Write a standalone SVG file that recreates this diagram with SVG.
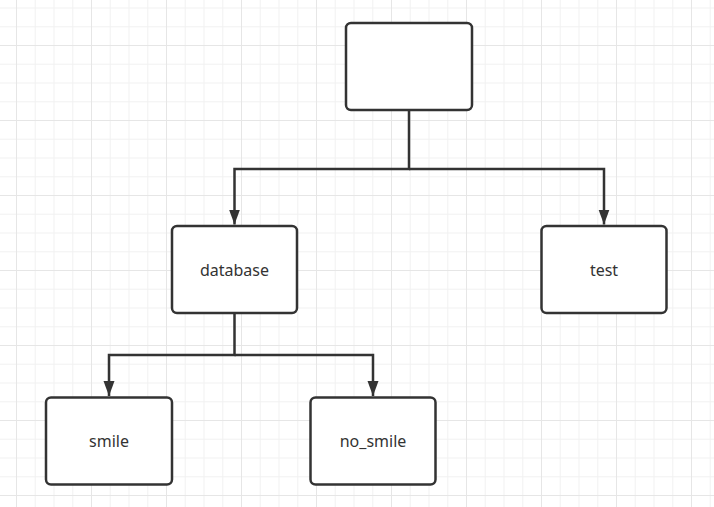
<svg xmlns="http://www.w3.org/2000/svg" width="714" height="507" viewBox="0 0 714 507">
  <style>
    .node rect { fill: #ffffff; stroke: #333333; stroke-width: 2.5; }
    .node text { font-family: "Noto Sans", "Liberation Sans", sans-serif; font-size: 16px; fill: #333333; text-anchor: middle; }
    .conn path { fill: none; stroke: #333333; stroke-width: 2.5; marker-end: url(#arrow); }
  </style>
  <defs>
    <pattern id="grid" patternUnits="userSpaceOnUse" x="16" y="45" width="75" height="75">
      <rect x="0" y="0" width="75" height="75" fill="#ffffff"/>
      <rect x="18.75" y="0" width="1" height="75" fill="#f2f2f2"/>
      <rect x="37.5" y="0" width="1" height="75" fill="#f2f2f2"/>
      <rect x="56.25" y="0" width="1" height="75" fill="#f2f2f2"/>
      <rect x="0" y="18.75" width="75" height="1" fill="#f2f2f2"/>
      <rect x="0" y="37.5" width="75" height="1" fill="#f2f2f2"/>
      <rect x="0" y="56.25" width="75" height="1" fill="#f2f2f2"/>
      <rect x="0" y="0" width="1" height="75" fill="#e6e6e6"/>
      <rect x="0" y="0" width="75" height="1" fill="#e6e6e6"/>
    </pattern>
    <marker id="arrow" markerUnits="userSpaceOnUse" markerWidth="16" markerHeight="12" refX="15" refY="5.5" orient="auto">
      <path d="M0,0 L15,5.5 L0,11 Z" fill="#333333"/>
    </marker>
  </defs>
  <rect x="0" y="0" width="714" height="507" fill="url(#grid)"/>

  <g id="connectors" class="conn">
    <path d="M409,111 V169 H234.5 V224.5"/>
    <path d="M409,169 H604 V224.5"/>
    <path d="M234.5,314 V355 H109 V396"/>
    <path d="M234.5,355 H373 V396"/>
  </g>

  <g id="node-root" class="node">
    <rect x="346" y="23" width="126" height="87" rx="5"/>
  </g>
  <g id="node-database" class="node">
    <rect x="172" y="226" width="125" height="87" rx="5"/>
    <text x="234.5" y="275.5">database</text>
  </g>
  <g id="node-test" class="node">
    <rect x="541.5" y="226" width="125" height="87" rx="5"/>
    <text x="604" y="275.5">test</text>
  </g>
  <g id="node-smile" class="node">
    <rect x="46" y="397.5" width="126" height="87" rx="5"/>
    <text x="109" y="447">smile</text>
  </g>
  <g id="node-no_smile" class="node">
    <rect x="310.5" y="397.5" width="125" height="87" rx="5"/>
    <text x="373" y="447">no_smile</text>
  </g>
</svg>
